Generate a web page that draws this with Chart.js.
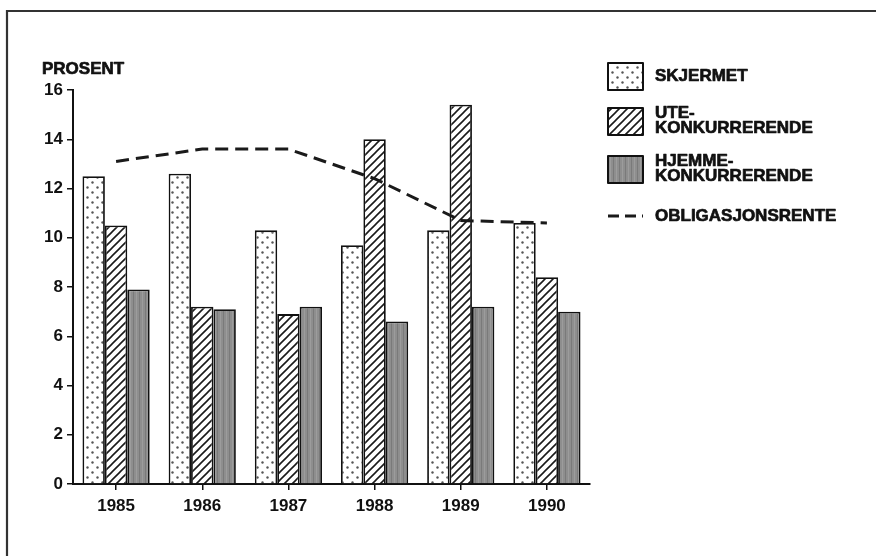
<!DOCTYPE html>
<html>
<head>
<meta charset="utf-8">
<script src="https://cdn.jsdelivr.net/npm/chart.js@4.4.1/dist/chart.umd.min.js"></script>
<style>
  html, body { margin: 0; padding: 0; background: #ffffff; }
  canvas { display: block; }
</style>
</head>
<body>
<canvas id="chart" width="876" height="556"></canvas>
<script>
// Rentabilitet etter sektor, 1985–1990 (prosent)
const years = ['1985', '1986', '1987', '1988', '1989', '1990'];
const skjermet = [12.5, 12.6, 10.3, 9.7, 10.3, 10.6];
const uteKonkurrerende = [10.5, 7.2, 6.9, 14.0, 15.4, 8.4];
const hjemmeKonkurrerende = [7.9, 7.1, 7.2, 6.6, 7.2, 7.0];
const obligasjonsrente = [13.1, 13.6, 13.6, 12.4, 10.7, 10.6];

const legendLabels = [
  ['SKJERMET'],
  ['UTE-', 'KONKURRERENDE'],
  ['HJEMME-', 'KONKURRERENDE'],
  ['OBLIGASJONSRENTE']
];

const FONT = "'Liberation Sans', Arial, sans-serif";
const INK = '#111111';

// Fill patterns for the bars
function makeTile(w, h, paint) {
  const c = document.createElement('canvas');
  c.width = w; c.height = h;
  const g = c.getContext('2d');
  paint(g, w, h);
  return g.createPattern(c, 'repeat');
}

const dotPattern = makeTile(10, 10, (g, w, h) => {
  g.fillStyle = '#ffffff';
  g.fillRect(0, 0, w, h);
  g.fillStyle = '#555555';
  g.beginPath(); g.arc(2.5, 2.5, 1.2, 0, Math.PI * 2); g.fill();
  g.beginPath(); g.arc(7.5, 7.5, 1.2, 0, Math.PI * 2); g.fill();
});

const hatchPattern = makeTile(8, 8, (g, w, h) => {
  g.fillStyle = '#ffffff';
  g.fillRect(0, 0, w, h);
  g.strokeStyle = '#1a1a1a';
  g.lineWidth = 1.6;
  g.beginPath();
  g.moveTo(-2, h + 2); g.lineTo(w + 2, -2);
  g.moveTo(-2, 2); g.lineTo(2, -2);
  g.moveTo(w - 2, h + 2); g.lineTo(w + 2, h - 2);
  g.stroke();
});

const greyPattern = makeTile(6, 6, (g, w, h) => {
  g.fillStyle = '#8e8e8e';
  g.fillRect(0, 0, w, h);
  g.fillStyle = '#7a7a7a';
  g.fillRect(1, 0, 1, h);
  g.fillStyle = '#9c9c9c';
  g.fillRect(4, 0, 1, h);
});

// Heavy caption text: fill plus a thin stroke in the same ink
function heavyText(ctx, text, x, y) {
  ctx.fillText(text, x, y);
  ctx.strokeText(text, x, y);
}

// Frame, axis caption and the legend on the right
const decorations = {
  id: 'decorations',
  afterDraw(chart) {
    const ctx = chart.ctx;
    const area = chart.chartArea;
    ctx.save();

    // frame: top and left rule
    ctx.strokeStyle = '#333333';
    ctx.lineWidth = 2.2;
    ctx.beginPath();
    ctx.moveTo(7, 556);
    ctx.lineTo(7, 11);
    ctx.lineTo(876, 11);
    ctx.stroke();

    // axis caption
    ctx.fillStyle = INK;
    ctx.strokeStyle = INK;
    ctx.lineWidth = 0.7;
    ctx.lineJoin = 'round';
    ctx.font = `bold 17px ${FONT}`;
    ctx.textBaseline = 'alphabetic';
    ctx.textAlign = 'left';
    heavyText(ctx, 'PROSENT', area.left - 31, area.top - 16);

    // legend
    const boxX = area.right + 18;
    const boxW = 35, boxH = 27;
    const textX = boxX + 47;
    const fills = [dotPattern, hatchPattern, greyPattern];
    const boxTops = [63, 108, 156];
    ctx.font = `bold 17px ${FONT}`;
    ctx.textBaseline = 'middle';
    for (let i = 0; i < 3; i++) {
      const y = boxTops[i];
      ctx.fillStyle = fills[i];
      ctx.fillRect(boxX, y, boxW, boxH);
      ctx.strokeStyle = INK;
      ctx.lineWidth = 2;
      ctx.strokeRect(boxX, y, boxW, boxH);
      ctx.fillStyle = INK;
      ctx.lineWidth = 0.7;
      const lines = legendLabels[i];
      if (lines.length === 1) {
        heavyText(ctx, lines[0], textX, y + boxH / 2);
      } else {
        heavyText(ctx, lines[0], textX, y + 5);
        heavyText(ctx, lines[1], textX, y + 20);
      }
    }
    const dashY = 216;
    ctx.strokeStyle = '#1a1a1a';
    ctx.lineWidth = 3;
    ctx.setLineDash([11, 6]);
    ctx.beginPath();
    ctx.moveTo(boxX, dashY);
    ctx.lineTo(boxX + boxW, dashY);
    ctx.stroke();
    ctx.setLineDash([]);
    ctx.fillStyle = INK;
    ctx.strokeStyle = INK;
    ctx.lineWidth = 0.7;
    heavyText(ctx, legendLabels[3][0], textX, dashY);

    ctx.restore();
  }
};

new Chart(document.getElementById('chart'), {
  type: 'bar',
  data: {
    labels: years,
    datasets: [
      {
        type: 'line',
        label: 'OBLIGASJONSRENTE',
        data: obligasjonsrente,
        borderColor: '#1a1a1a',
        borderWidth: 3,
        borderDash: [13, 7],
        pointRadius: 0,
        tension: 0,
        fill: false,
        order: 0
      },
      {
        label: 'SKJERMET',
        data: skjermet,
        backgroundColor: dotPattern,
        borderColor: INK,
        borderWidth: 1.8,
        order: 1
      },
      {
        label: 'UTE-KONKURRERENDE',
        data: uteKonkurrerende,
        backgroundColor: hatchPattern,
        borderColor: INK,
        borderWidth: 1.8,
        order: 1
      },
      {
        label: 'HJEMME-KONKURRERENDE',
        data: hjemmeKonkurrerende,
        backgroundColor: greyPattern,
        borderColor: INK,
        borderWidth: 1.8,
        order: 1
      }
    ]
  },
  options: {
    responsive: false,
    animation: false,
    layout: { padding: { left: 33, right: 286, top: 90, bottom: 32 } },
    datasets: {
      bar: { categoryPercentage: 0.78, barPercentage: 1.0 }
    },
    plugins: {
      legend: { display: false },
      tooltip: { enabled: false }
    },
    scales: {
      x: {
        offset: true,
        afterFit(scale) { scale.height = 40; },
        grid: {
          offset: false,
          drawOnChartArea: false,
          drawTicks: true,
          tickLength: 6,
          color: INK,
          lineWidth: 1.5
        },
        border: { display: true, color: INK, width: 2 },
        ticks: {
          color: INK,
          padding: 6,
          font: { family: FONT, weight: 'bold', size: 17 }
        }
      },
      y: {
        min: 0,
        max: 16,
        afterFit(scale) { scale.width = 40; },
        grid: {
          drawOnChartArea: false,
          drawTicks: true,
          tickLength: 6,
          color: INK,
          lineWidth: 1.5
        },
        border: { display: true, color: INK, width: 2 },
        ticks: {
          stepSize: 2,
          color: INK,
          padding: 4,
          font: { family: FONT, weight: 'bold', size: 17 }
        }
      }
    }
  },
  plugins: [decorations]
});
</script>
</body>
</html>
